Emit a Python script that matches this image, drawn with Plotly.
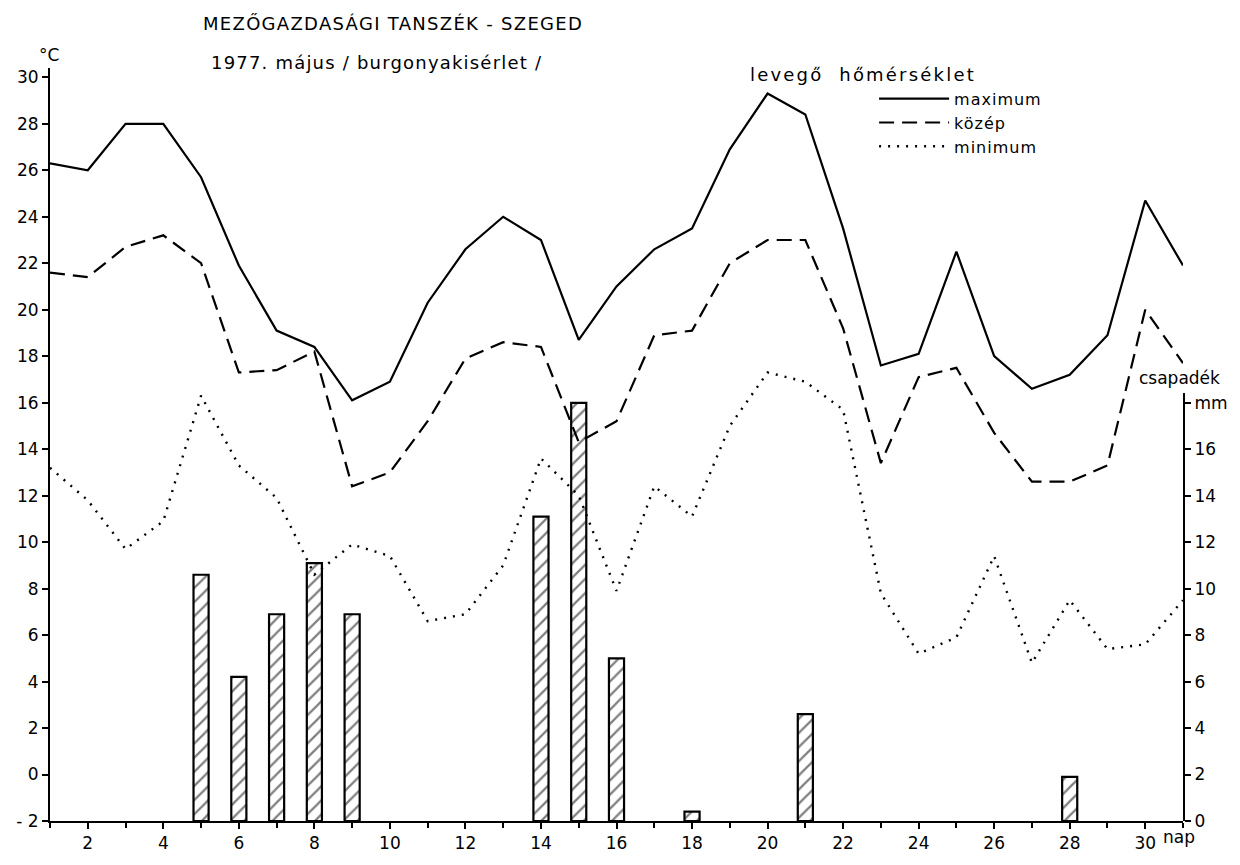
import plotly.graph_objects as go

# ---------------- data ----------------
days = list(range(1, 32))
t_max = [26.3, 26.0, 28.0, 28.0, 25.7, 21.9, 19.1, 18.4, 16.1, 16.9,
         20.3, 22.6, 24.0, 23.0, 18.7, 21.0, 22.6, 23.5, 26.9, 29.3,
         28.4, 23.5, 17.6, 18.1, 22.5, 18.0, 16.6, 17.2, 18.9, 24.7, 21.9]
t_mean = [21.6, 21.4, 22.7, 23.2, 22.0, 17.3, 17.4, 18.2, 12.4, 13.0,
          15.2, 17.9, 18.6, 18.4, 14.3, 15.2, 18.9, 19.1, 22.0, 23.0,
          23.0, 19.2, 13.4, 17.1, 17.5, 14.7, 12.6, 12.6, 13.3, 20.0, 17.7]
t_min = [13.2, 11.8, 9.7, 10.9, 16.3, 13.3, 11.9, 8.6, 9.9, 9.4,
         6.6, 6.9, 9.0, 13.6, 12.0, 7.9, 12.4, 11.1, 15.0, 17.3,
         16.9, 15.7, 7.8, 5.2, 5.9, 9.4, 4.8, 7.5, 5.4, 5.6, 7.5]

rain_days = [5, 6, 7, 8, 9, 14, 15, 16, 18, 21, 28]
rain_mm = [10.6, 6.2, 8.9, 11.1, 8.9, 13.1, 18.0, 7.0, 0.4, 4.6, 1.9]

x_tickvals = list(range(2, 31, 2))
x_ticktext = [str(v) for v in x_tickvals]
y_tickvals = list(range(-2, 31, 2))
y_ticktext = ["- 2"] + [str(v) for v in y_tickvals[1:]]
y2_tickvals = list(range(0, 19, 2))
y2_ticktext = [str(v) for v in y2_tickvals[:-1]] + ["mm"]

FONT = "DejaVu Sans"
W, H = 1240, 865
L, R, T, B = 50, 53, 68, 32


def px_x(px):
    return (px - L) / (W - L - R)


def px_y(py):
    return (H - B - py) / (H - T - B)


def spaced(text, px):
    return f'<span style="letter-spacing:{px}px">{text}</span>'


fig = go.Figure()

fig.add_trace(go.Scatter(x=days, y=t_max, mode="lines", name=spaced("maximum", 1),
                         line=dict(color="black", width=2.2)))
fig.add_trace(go.Scatter(x=days, y=t_mean, mode="lines", name=spaced("közép", 1),
                         line=dict(color="black", width=2.2, dash="15px,8px")))
fig.add_trace(go.Scatter(x=days, y=t_min, mode="lines", name=spaced("minimum", 1),
                         line=dict(color="black", width=2.4, dash="2px,7px")))

fig.add_trace(go.Bar(x=rain_days, y=rain_mm, width=0.4, yaxis="y2",
                     showlegend=False, name="csapadék",
                     marker=dict(color="rgba(255,255,255,0)",
                                 line=dict(color="black", width=2.2),
                                 pattern=dict(shape="/", fgcolor="black",
                                              bgcolor="rgba(255,255,255,0)",
                                              size=10, solidity=0.22))))

axis_font = dict(family=FONT, size=17, color="black")

fig.update_layout(
    width=W, height=H,
    margin=dict(l=L, r=R, t=T, b=B),
    paper_bgcolor="white",
    plot_bgcolor="rgba(0,0,0,0)",
    font=dict(family=FONT, size=17, color="black"),
    xaxis=dict(range=[1, 31], tickvals=x_tickvals, ticktext=x_ticktext,
               ticks="outside", ticklen=6, tickwidth=2, tickcolor="black",
               showline=True, linecolor="black", linewidth=2,
               showgrid=False, zeroline=False, tickfont=axis_font,
               minor=dict(dtick=1, tick0=1, ticks="outside", ticklen=5,
                          tickwidth=1.5, tickcolor="black", showgrid=False),
               anchor="y"),
    yaxis=dict(range=[-2, 30.4], tickvals=y_tickvals, ticktext=y_ticktext,
               ticks="outside", ticklen=6, tickwidth=2, tickcolor="black",
               showline=True, linecolor="black", linewidth=2,
               showgrid=False, zeroline=False, tickfont=axis_font,
               domain=[0, 1], anchor="x"),
    yaxis2=dict(range=[0, 18.43], tickvals=y2_tickvals, ticktext=y2_ticktext,
                side="right", anchor="x", domain=[0, 0.5686],
                ticks="outside", ticklen=6, tickwidth=2, tickcolor="black",
                showline=True, linecolor="black", linewidth=2,
                showgrid=False, zeroline=False, tickfont=axis_font),
    showlegend=True,
    legend=dict(x=px_x(877), y=px_y(82), xanchor="left", yanchor="top",
                font=dict(family=FONT, size=16, color="black"),
                bgcolor="rgba(0,0,0,0)", itemwidth=70, tracegroupgap=0),
)

ann = [
    dict(text=spaced("MEZŐGAZDASÁGI TANSZÉK - SZEGED", 1.3), x=px_x(202), y=px_y(23), size=18, xa="left"),
    dict(text=spaced("1977. május / burgonyakisérlet /", 1.2), x=px_x(210), y=px_y(62), size=18, xa="left"),
    dict(text="°C", x=px_x(37), y=px_y(55), size=17, xa="left"),
    dict(text=spaced("levegő  hőmérséklet", 2.2), x=px_x(750), y=px_y(75), size=18, xa="left"),
    dict(text="csapadék", x=px_x(1183), y=px_y(383), size=17, xa="center"),
    dict(text="nap", x=px_x(1165), y=px_y(849), size=17, xa="left"),
]
for a in ann:
    fig.add_annotation(text=a["text"], x=a["x"], y=a["y"], xref="paper", yref="paper",
                       xanchor=a["xa"], yanchor="middle", showarrow=False,
                       font=dict(family=FONT, size=a["size"], color="black"))

fig.write_html("out.html")
